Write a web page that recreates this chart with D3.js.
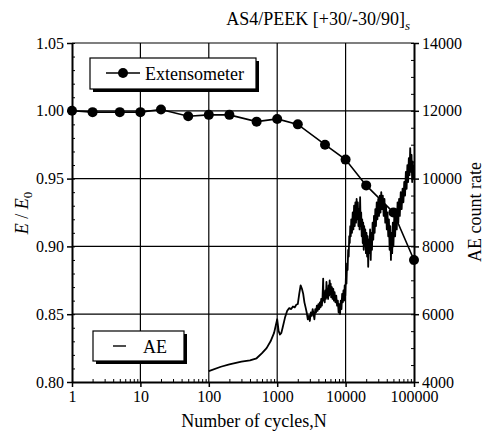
<!DOCTYPE html>
<html>
<head>
<meta charset="utf-8">
<script src="https://cdn.jsdelivr.net/npm/d3@7"></script>
<style>
  body { margin: 0; background: #fff; }
</style>
</head>
<body>
<svg id="chart"></svg>
<script>
// extensometer data (E/E0 against cycles)
var extN = [1, 2, 5, 10, 20, 50, 100, 200, 500, 1000, 2000, 5000, 10000, 20000, 50000, 100000];
var extE = [1.000, 0.999, 0.999, 0.999, 1.001, 0.996, 0.997, 0.997, 0.992, 0.994, 0.990, 0.975, 0.964, 0.945, 0.925, 0.890];

// AE count rate trace (noisy band -> alternating high / low)
var aeN = [100, 150, 200, 300, 400, 500, 600, 700, 800, 900, 950, 1000, 1050, 1100, 1150, 1200, 1300, 1400, 1500, 1600,
    1700, 1800, 1900, 2000, 2100, 2200, 2300, 2400, 2500, 2600, 2700, 2800, 2900,
    3000, 3100, 3200, 3300, 3400, 3500, 3600, 3700, 3800, 3900, 4000, 4100, 4200, 4300, 4400, 4500, 4600, 4700, 4750, 4850,
    4950, 5050, 5150, 5250, 5350, 5450, 5550, 5650, 5750, 5850, 5950, 6050, 6150, 6300, 6450, 6600, 6750, 6900, 7100, 7300,
    7500, 7700, 7900, 8100, 8300, 8500, 8700, 8900, 9100, 9300, 9500, 9700, 9900, 10100, 10300, 10500, 10700, 10900, 11100, 11300,
    11500, 11700, 11900, 12100, 12400, 12700, 13000, 13300, 13600, 13900, 14200, 14500, 14800, 15100, 15400, 15700, 16000, 16300, 16600, 16900,
    17200, 17500, 17800, 18100, 18400, 18700, 19000, 19400, 19800, 20200, 20600, 21000, 21400, 21800, 22300, 22800, 23300, 23800, 24300, 24800,
    25400, 26000, 26600, 27200, 27800, 28500, 29200, 30000, 30800, 31600, 32400, 33200, 34000, 35000, 36000, 37000, 38000, 39000, 40000, 41000,
    42000, 43000, 44000, 45000, 46000, 47000, 48000, 49000, 50000, 51500, 53000, 54500, 56000, 57500, 59000, 60500, 62000, 64000, 66000, 68000,
    70000, 72000, 74000, 76000, 78000, 80000, 82000, 84000, 86000, 88000, 90000, 92000, 94000, 96000, 98000, 100000];
var aeRate = [4320, 4450, 4520, 4600, 4640, 4700, 4850, 5000, 5200, 5450, 5650, 5850, 5500, 5400, 5450, 5600, 5900, 6100, 6180, 6150,
    6230, 6200, 6280, 6300, 6600, 6850, 6750, 6600, 6350, 6200, 6050, 5850, 5950,
    5800, 6050, 5950, 6150, 6000, 5850, 6150, 6050, 6250, 6100, 6300, 6150, 6350, 6200, 6450, 6250, 6500, 7050, 6400, 6650,
    6350, 6700, 6450, 6950, 6500, 6750, 6450, 6850, 6550, 7000, 6600, 6900, 6500, 6800, 6450, 6750, 6400, 6650, 6350, 6550,
    6250, 6400, 6050, 6300, 6000, 6400, 6150, 6600, 6350, 6700, 6400, 6850, 6550, 7100, 6900, 7500, 7300, 7900, 7700, 8300,
    8100, 8600, 8300, 8800, 8400, 9000, 8500, 9200, 8600, 9300, 8700, 9400, 8800, 9300, 8600, 9100, 8500, 9450, 8600, 9000,
    8300, 8800, 8100, 8700, 7900, 8600, 8000, 8500, 7800, 8400, 7700, 8300, 7400, 8200, 7800, 8500, 7600, 8400, 7900, 8700,
    8200, 8900, 8400, 9100, 8600, 9300, 8800, 9400, 8900, 9500, 9000, 9600, 9100, 9500, 8900, 9400, 8700, 9200, 8500, 9000,
    8300, 8800, 7900, 8600, 7600, 8400, 7800, 8700, 8000, 8900, 8300, 9100, 8500, 9300, 8700, 9400, 8900, 9600, 9100, 9700,
    9300, 9900, 9500, 10200, 9700, 10400, 9900, 10600, 10100, 10900, 10200, 10700, 9900, 10500, 10000, 10400];

var leftTicks = [0.80, 0.85, 0.90, 0.95, 1.00, 1.05];
var rightTicks = [4000, 6000, 8000, 10000, 12000, 14000];
var xTicks = [1, 10, 100, 1000, 10000, 100000];

var svgWidth = 486, svgHeight = 432;
var margin = { top: 43, right: 72, bottom: 50, left: 72 };
var width = svgWidth - margin.left - margin.right;   // 342
var height = svgHeight - margin.top - margin.bottom; // 339
var serif = "'Liberation Serif', 'Times New Roman', Tinos";

var svg = d3.select("#chart")
    .attr("width", svgWidth)
    .attr("height", svgHeight);

var g = svg.append("g")
    .attr("transform", "translate(" + margin.left + "," + margin.top + ")");

var x = d3.scaleLog().domain([1, 100000]).range([0, width]);
var y = d3.scaleLinear().domain([0.80, 1.05]).range([height, 0]);
var y2 = d3.scaleLinear().domain([4000, 14000]).range([height, 0]);

// grid lines
g.selectAll(".hgrid")
    .data(leftTicks.slice(1))
    .enter()
    .append("line")
    .attr("x1", 0).attr("x2", width)
    .attr("y1", function(d) { return y(d); })
    .attr("y2", function(d) { return y(d); })
    .attr("stroke", "#000").attr("stroke-width", 1.2);

g.selectAll(".vgrid")
    .data(xTicks.slice(1, 5))
    .enter()
    .append("line")
    .attr("y1", 0).attr("y2", height)
    .attr("x1", function(d) { return x(d); })
    .attr("x2", function(d) { return x(d); })
    .attr("stroke", "#000").attr("stroke-width", 1.2);

// minor tick values
var leftMinor = d3.range(80, 106).map(function(d) { return d / 100; });
var rightMinor = d3.range(4000, 14001, 500);
var xMinor = [];
xTicks.slice(0, 5).forEach(function(dec) {
    for (var k = 2; k < 10; k++) xMinor.push(dec * k);
});

// left axis
g.append("g")
    .call(d3.axisLeft(y).tickValues(leftMinor).tickSize(-3).tickFormat(""))
    .call(function(a) { a.select(".domain").remove(); });
var la = g.append("g")
    .call(d3.axisLeft(y).tickValues(leftTicks).tickSize(5).tickSizeOuter(0).tickFormat(d3.format(".2f")));

// right axis
g.append("g")
    .attr("transform", "translate(" + width + ",0)")
    .call(d3.axisRight(y2).tickValues(rightMinor).tickSize(-3).tickFormat(""))
    .call(function(a) { a.select(".domain").remove(); });
var ra = g.append("g")
    .attr("transform", "translate(" + width + ",0)")
    .call(d3.axisRight(y2).tickValues(rightTicks).tickSize(5).tickSizeOuter(0).tickFormat(d3.format("d")));

// bottom axis
g.append("g")
    .attr("transform", "translate(0," + height + ")")
    .call(d3.axisBottom(x).tickValues(xMinor).tickSize(-3).tickFormat(""))
    .call(function(a) { a.select(".domain").remove(); });
var ba = g.append("g")
    .attr("transform", "translate(0," + height + ")")
    .call(d3.axisBottom(x).tickValues(xTicks).tickSize(5).tickPadding(4).tickSizeOuter(0).tickFormat(d3.format("d")));

[la, ra, ba].forEach(function(a) {
    a.select(".domain").attr("stroke-width", 2);
    a.selectAll(".tick line").attr("stroke-width", 1.5);
    a.selectAll(".tick text").style("font-size", "16px");
});
g.selectAll(".tick line").attr("stroke", "#000");

// AE trace
var aeData = aeN.map(function(n, i) { return { n: n, v: aeRate[i] }; });
var aeLine = d3.line()
    .x(function(d) { return x(d.n); })
    .y(function(d) { return y2(d.v); });

g.append("path")
    .datum(aeData)
    .attr("fill", "none")
    .attr("stroke", "#000")
    .attr("stroke-width", 1.8)
    .attr("stroke-linejoin", "round")
    .attr("d", aeLine);

// extensometer line + dots
var extData = extN.map(function(n, i) { return { n: n, v: extE[i] }; });
var extLine = d3.line()
    .x(function(d) { return x(d.n); })
    .y(function(d) { return y(d.v); });

g.append("path")
    .datum(extData)
    .attr("fill", "none")
    .attr("stroke", "#000")
    .attr("stroke-width", 1.6)
    .attr("d", extLine);

g.selectAll(".dot")
    .data(extData)
    .enter()
    .append("circle")
    .attr("cx", function(d) { return x(d.n); })
    .attr("cy", function(d) { return y(d.v); })
    .attr("r", 5)
    .attr("fill", "#000");

// legends with a drop shadow
function legendBox(x0, y0, w, h) {
    svg.append("rect").attr("x", x0 + 3).attr("y", y0 + 3).attr("width", w).attr("height", h).attr("fill", "#000");
    svg.append("rect").attr("x", x0).attr("y", y0).attr("width", w).attr("height", h)
        .attr("fill", "#fff").attr("stroke", "#000").attr("stroke-width", 1.2);
}

legendBox(90, 58, 166, 31);
svg.append("line").attr("x1", 106).attr("x2", 140).attr("y1", 73).attr("y2", 73)
    .attr("stroke", "#000").attr("stroke-width", 1.6);
svg.append("circle").attr("cx", 123).attr("cy", 73).attr("r", 5).attr("fill", "#000");
svg.append("text").attr("x", 145).attr("y", 80).text("Extensometer");

legendBox(93, 331, 91, 30);
svg.append("line").attr("x1", 113).attr("x2", 126).attr("y1", 346).attr("y2", 346)
    .attr("stroke", "#000").attr("stroke-width", 1.4);
svg.append("text").attr("x", 143).attr("y", 353).text("AE");

// title
var title = svg.append("text")
    .attr("x", 410).attr("y", 25)
    .attr("text-anchor", "end");
title.append("tspan").text("AS4/PEEK [+30/-30/90]");
title.append("tspan").attr("dy", 5).style("font-size", "13px").style("font-style", "italic").text("s");

// axis titles
var yl = svg.append("text")
    .attr("transform", "translate(28,213) rotate(-90)")
    .attr("text-anchor", "middle");
yl.append("tspan").style("font-style", "italic").text("E");
yl.append("tspan").text(" / ");
yl.append("tspan").style("font-style", "italic").text("E");
yl.append("tspan").attr("dy", 4).style("font-size", "13px").text("0");

svg.append("text")
    .attr("transform", "translate(481,212) rotate(-90)")
    .attr("text-anchor", "middle")
    .text("AE count rate");

svg.append("text")
    .attr("x", 254).attr("y", 427)
    .attr("text-anchor", "middle")
    .text("Number of cycles,N");

// serif font for every label, set last so it beats the axis defaults
svg.selectAll("text")
    .style("font-family", serif)
    .style("fill", "#000");
svg.selectAll("text").filter(function() { return !this.style.fontSize; })
    .style("font-size", "18px");
</script>
</body>
</html>
